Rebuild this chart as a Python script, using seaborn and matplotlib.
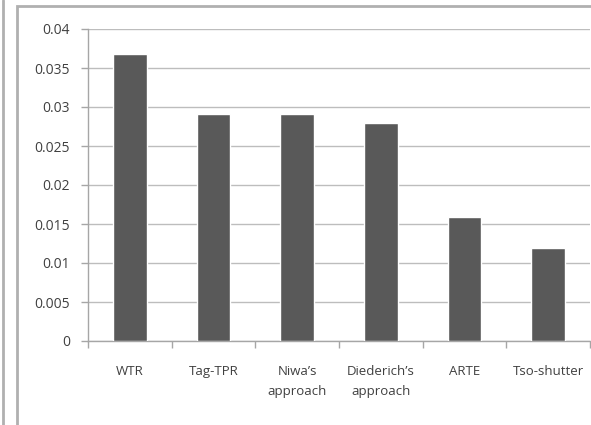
import matplotlib
matplotlib.use("Agg")
import matplotlib.pyplot as plt
from matplotlib.patches import Rectangle
from matplotlib.lines import Line2D
from matplotlib.ticker import FixedLocator
import seaborn as sns
import pandas as pd

methods = ["WTR", "Tag-TPR", "Niwa\u2019s\napproach", "Diederich\u2019s\napproach", "ARTE", "Tso-shutter"]
values = [0.0368, 0.0291, 0.0291, 0.0280, 0.0159, 0.0119]
y_ticks = [0, 0.005, 0.01, 0.015, 0.02, 0.025, 0.03, 0.035, 0.04]
y_tick_labels = ["0", "0.005", "0.01", "0.015", "0.02", "0.025", "0.03", "0.035", "0.04"]

sns.set_theme(style="white")
plt.rcParams["font.family"] = ["Open Sans", "DejaVu Sans"]

fig = plt.figure(figsize=(5.91, 4.25), dpi=100)
ax = fig.add_axes([88 / 591, 84 / 425, 502 / 591, 312 / 425])

df = pd.DataFrame({"method": methods, "value": values})
sns.barplot(data=df, x="method", y="value", color="#595959", saturation=1,
            width=0.4, ax=ax, zorder=3)

ax.set_ylim(0, 0.04)
ax.set_xlim(-0.5, len(methods) - 0.5)
ax.set_yticks(y_ticks)
ax.set_yticklabels(y_tick_labels)
ax.grid(axis="y", color="#bdbdbd", linewidth=1.0, zorder=0)
ax.set_axisbelow(True)
ax.set_xlabel("")
ax.set_ylabel("")

for side in ["top", "right"]:
    ax.spines[side].set_visible(False)
for side in ["left", "bottom"]:
    ax.spines[side].set_color("#a6a6a6")
    ax.spines[side].set_linewidth(1.0)

ax.tick_params(axis="y", which="major", length=5, width=1, color="#a6a6a6",
               direction="out", labelsize=10, labelcolor="#404040", pad=8, left=True)
ax.tick_params(axis="x", which="major", length=0, labelsize=9.5, labelcolor="#404040", pad=17)
ax.xaxis.set_minor_locator(FixedLocator([i - 0.5 for i in range(len(methods) + 1)]))
ax.tick_params(axis="x", which="minor", length=5, width=1, color="#a6a6a6",
               direction="out", bottom=True)
for lab in ax.get_xticklabels():
    lab.set_linespacing(1.7)
    lab.set_verticalalignment("top")

# surrounding chart frame and neighbouring panel edge
fig.patches.append(Rectangle((17 / 591, -0.05), 1.0, 1.05 - 6 / 425, transform=fig.transFigure,
                             fill=False, edgecolor="#b0b0b0", linewidth=2.0))
fig.lines.append(Line2D([3 / 591, 3 / 591], [0, 1], transform=fig.transFigure,
                        color="#b0b0b0", linewidth=2.0))

fig.savefig("out.png", dpi=100, facecolor="white")
